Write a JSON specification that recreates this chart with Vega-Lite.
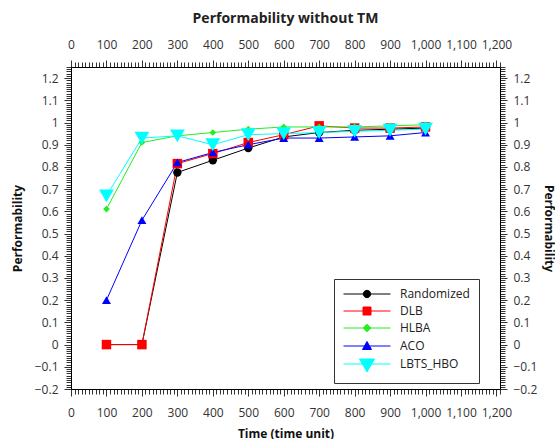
{
  "$schema": "https://vega.github.io/schema/vega-lite/v6.json",
  "width": 429,
  "height": 322,
  "padding": {"left": 11, "top": 12, "right": 0, "bottom": 0},
  "title": {"text": "Performability without TM", "fontSize": 14, "font": "Open Sans", "fontWeight": "bold", "color": "#222222", "offset": 12},
  "config": {
    "view": {"stroke": "black", "strokeWidth": 1},
    "font": "Open Sans",
    "axis": {"labelFont": "Open Sans", "labelFontSize": 12, "labelColor": "#333333", "tickColor": "#333333", "domainColor": "black", "grid": false, "titleFont": "Open Sans", "titleFontSize": 12, "titleFontWeight": "bold", "titleColor": "#111111", "labelFlush": false, "labelOverlap": false},
    "legend": {
      "orient": "none", "legendX": 263, "legendY": 212, "title": null,
      "strokeColor": "#333333", "fillColor": "white", "padding": 9,
      "labelFont": "Open Sans", "labelFontSize": 12, "labelColor": "#222222", "labelOffset": 45,
      "symbolSize": 100, "symbolOpacity": 1, "symbolStrokeWidth": 1, "rowPadding": 5
    }
  },
  "data": {"values": [
    {"time": 100, "perf": 0, "series": "Randomized"},
    {"time": 200, "perf": 0, "series": "Randomized"},
    {"time": 300, "perf": 0.775, "series": "Randomized"},
    {"time": 400, "perf": 0.83, "series": "Randomized"},
    {"time": 500, "perf": 0.885, "series": "Randomized"},
    {"time": 600, "perf": 0.935, "series": "Randomized"},
    {"time": 700, "perf": 0.955, "series": "Randomized"},
    {"time": 800, "perf": 0.965, "series": "Randomized"},
    {"time": 900, "perf": 0.97, "series": "Randomized"},
    {"time": 1000, "perf": 0.975, "series": "Randomized"},
    {"time": 100, "perf": 0, "series": "DLB"},
    {"time": 200, "perf": 0, "series": "DLB"},
    {"time": 300, "perf": 0.815, "series": "DLB"},
    {"time": 400, "perf": 0.86, "series": "DLB"},
    {"time": 500, "perf": 0.91, "series": "DLB"},
    {"time": 600, "perf": 0.945, "series": "DLB"},
    {"time": 700, "perf": 0.985, "series": "DLB"},
    {"time": 800, "perf": 0.975, "series": "DLB"},
    {"time": 900, "perf": 0.975, "series": "DLB"},
    {"time": 1000, "perf": 0.98, "series": "DLB"},
    {"time": 100, "perf": 0.61, "series": "HLBA"},
    {"time": 200, "perf": 0.91, "series": "HLBA"},
    {"time": 300, "perf": 0.94, "series": "HLBA"},
    {"time": 400, "perf": 0.955, "series": "HLBA"},
    {"time": 500, "perf": 0.97, "series": "HLBA"},
    {"time": 600, "perf": 0.98, "series": "HLBA"},
    {"time": 700, "perf": 0.98, "series": "HLBA"},
    {"time": 800, "perf": 0.98, "series": "HLBA"},
    {"time": 900, "perf": 0.985, "series": "HLBA"},
    {"time": 1000, "perf": 0.99, "series": "HLBA"},
    {"time": 100, "perf": 0.2, "series": "ACO"},
    {"time": 200, "perf": 0.56, "series": "ACO"},
    {"time": 300, "perf": 0.82, "series": "ACO"},
    {"time": 400, "perf": 0.865, "series": "ACO"},
    {"time": 500, "perf": 0.9, "series": "ACO"},
    {"time": 600, "perf": 0.93, "series": "ACO"},
    {"time": 700, "perf": 0.93, "series": "ACO"},
    {"time": 800, "perf": 0.935, "series": "ACO"},
    {"time": 900, "perf": 0.94, "series": "ACO"},
    {"time": 1000, "perf": 0.955, "series": "ACO"},
    {"time": 100, "perf": 0.67, "series": "LBTS_HBO"},
    {"time": 200, "perf": 0.93, "series": "LBTS_HBO"},
    {"time": 300, "perf": 0.94, "series": "LBTS_HBO"},
    {"time": 400, "perf": 0.9, "series": "LBTS_HBO"},
    {"time": 500, "perf": 0.945, "series": "LBTS_HBO"},
    {"time": 600, "perf": 0.95, "series": "LBTS_HBO"},
    {"time": 700, "perf": 0.955, "series": "LBTS_HBO"},
    {"time": 800, "perf": 0.96, "series": "LBTS_HBO"},
    {"time": 900, "perf": 0.965, "series": "LBTS_HBO"},
    {"time": 1000, "perf": 0.97, "series": "LBTS_HBO"}
  ]},
  "resolve": {"axis": {"x": "independent", "y": "independent"}},
  "layer": [
    {
      "mark": {"type": "point", "opacity": 0},
      "encoding": {
        "x": {"field": "time", "type": "quantitative", "scale": {"domain": [0, 1210], "nice": false, "zero": false},
          "axis": {"orient": "bottom", "tickCount": 121, "labels": false, "domain": false, "tickSize": 5, "title": null}},
        "y": {"field": "perf", "type": "quantitative", "scale": {"domain": [-0.2, 1.25], "nice": false, "zero": false},
          "axis": {"orient": "left", "tickCount": 145, "labels": false, "domain": false, "tickSize": 5, "title": null}}
      }
    },
    {
      "mark": {"type": "point", "opacity": 0},
      "encoding": {
        "x": {"field": "time", "type": "quantitative",
          "axis": {"orient": "top", "tickCount": 121, "labels": false, "domain": false, "tickSize": 5, "title": null}},
        "y": {"field": "perf", "type": "quantitative",
          "axis": {"orient": "right", "tickCount": 145, "labels": false, "domain": false, "tickSize": 5, "title": null}}
      }
    },
    {
      "mark": {"type": "line", "strokeWidth": 1},
      "encoding": {
        "x": {"field": "time", "type": "quantitative",
          "axis": {"orient": "bottom", "values": [0,100,200,300,400,500,600,700,800,900,1000,1100,1200], "format": ",.0f", "tickSize": 7, "labelPadding": 11, "title": "Time (time unit)", "titlePadding": 10}},
        "y": {"field": "perf", "type": "quantitative",
          "axis": {"orient": "left", "values": [-0.2,-0.1,0,0.1,0.2,0.3,0.4,0.5,0.6,0.7,0.8,0.9,1,1.1,1.2], "format": "~g", "tickSize": 7, "labelPadding": 6, "title": "Performability", "titlePadding": 10}},
        "color": {"field": "series", "type": "nominal",
          "scale": {"domain": ["Randomized", "DLB", "HLBA", "ACO", "LBTS_HBO"], "range": ["#000000", "#ff0000", "#22ee22", "#0000ff", "#00ffff"]},
          "legend": {
            "labelExpr": "datum.label + '\u00a0\u00a0\u00a0\u00a0\u00a0\u00a0\u00a0\u00a0'",
            "encode": {"symbols": {"update": {
              "shape": {"signal": "datum.value === 'Randomized' ? 'M-1.1,0H8.3M4.34,0A0.74,0.74,0,1,1,2.86,0A0.74,0.74,0,1,1,4.34,0Z' : datum.value === 'DLB' ? 'M-1.1,0H8.3M2.8,-0.8H4.4V0.8H2.8Z' : datum.value === 'HLBA' ? 'M-1.1,0H8.3M3.6,-0.76L4.36,0L3.6,0.76L2.84,0Z' : datum.value === 'ACO' ? 'M-1.1,0H8.3M3.6,-0.9L4.5,0.7L2.7,0.7Z' : 'M-1.1,0H8.3M2.1,-1L5.1,-1L3.6,1.6Z'"},
              "strokeWidth": {"value": 1},
              "opacity": {"value": 1},
              "fillOpacity": {"value": 1}
            }}}
          }}
      }
    },
    {
      "transform": [{"filter": "datum.series === 'Randomized'"}],
      "mark": {"type": "point", "filled": true, "opacity": 1, "shape": "circle", "size": 70},
      "encoding": {
        "x": {"field": "time", "type": "quantitative", "axis": null},
        "y": {"field": "perf", "type": "quantitative", "axis": null},
        "color": {"field": "series", "type": "nominal"}
      }
    },
    {
      "transform": [{"filter": "datum.series === 'DLB'"}],
      "mark": {"type": "point", "filled": true, "opacity": 1, "shape": "square", "size": 90},
      "encoding": {
        "x": {"field": "time", "type": "quantitative", "axis": null},
        "y": {"field": "perf", "type": "quantitative", "axis": null},
        "color": {"field": "series", "type": "nominal"}
      }
    },
    {
      "transform": [{"filter": "datum.series === 'HLBA'"}],
      "mark": {"type": "point", "filled": true, "opacity": 1, "shape": "diamond", "size": 45},
      "encoding": {
        "x": {"field": "time", "type": "quantitative", "axis": null},
        "y": {"field": "perf", "type": "quantitative", "axis": null},
        "color": {"field": "series", "type": "nominal"}
      }
    },
    {
      "transform": [{"filter": "datum.series === 'ACO'"}],
      "mark": {"type": "point", "filled": true, "opacity": 1, "shape": "triangle-up", "size": 80},
      "encoding": {
        "x": {"field": "time", "type": "quantitative", "axis": null},
        "y": {"field": "perf", "type": "quantitative", "axis": null},
        "color": {"field": "series", "type": "nominal"}
      }
    },
    {
      "transform": [{"filter": "datum.series === 'LBTS_HBO'"}],
      "mark": {"type": "point", "filled": true, "opacity": 1, "shape": "triangle-down", "size": 220},
      "encoding": {
        "x": {"field": "time", "type": "quantitative",
          "axis": {"orient": "top", "values": [0,100,200,300,400,500,600,700,800,900,1000,1100,1200], "format": ",.0f", "tickSize": 7, "labelPadding": 9, "title": null}},
        "y": {"field": "perf", "type": "quantitative",
          "axis": {"orient": "right", "values": [-0.2,-0.1,0,0.1,0.2,0.3,0.4,0.5,0.6,0.7,0.8,0.9,1,1.1,1.2], "format": "~g", "tickSize": 7, "labelPadding": 6, "title": "Performability", "titlePadding": 5}},
        "color": {"field": "series", "type": "nominal"}
      }
    }
  ]
}
